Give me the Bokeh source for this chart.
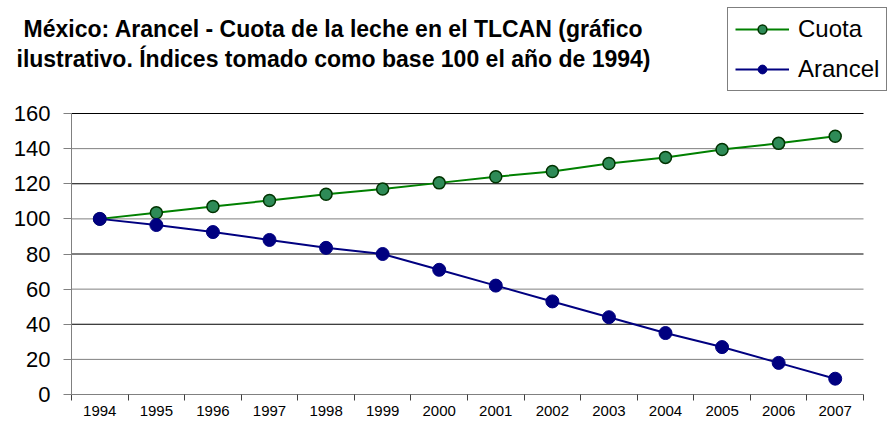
import numpy as np
from bokeh.plotting import figure
from bokeh.models import (ColumnDataSource, FixedTicker, Label, Legend,
                          LegendItem, Range1d)
from bokeh.embed import file_html
from bokeh.resources import INLINE

years = ["1994", "1995", "1996", "1997", "1998", "1999", "2000",
         "2001", "2002", "2003", "2004", "2005", "2006", "2007"]
cuota = [100, 103.5, 107, 110.5, 114, 117, 120.5, 124, 127, 131.5, 135, 139.5, 143, 147]
arancel = [100, 96.5, 92.5, 88, 83.5, 80, 71, 62, 53, 44, 35, 27, 18, 9]
y_ticks = [0, 20, 40, 60, 80, 100, 120, 140, 160]
title_lines = ["México: Arancel - Cuota de la leche en el TLCAN (gráfico",
               "ilustrativo. Índices tomado como base 100 el año de 1994)"]

FONT = "Liberation Sans"
W, H = 891, 431
# pixel layout (styles)
AXL, FR, AXB = 71, 889, 394        # y-axis pixel, frame right, x-axis pixel
AX_R = 863                          # end of category axis
Y_TOP_PX = 113                      # pixel of top tick value
n = len(years)
ymax_tick = y_ticks[-1]
px_per_cat = (AX_R - AXL) / n
px_per_unit = (AXB - Y_TOP_PX) / ymax_tick
x_start = -AXL / px_per_cat
x_end = (FR - AXL) / px_per_cat
y_start = -(H - AXB) / px_per_unit
y_end = AXB / px_per_unit

def px2x(px):
    return (px - AXL) / px_per_cat

def px2y(py):
    return (AXB - py) / px_per_unit

xpos = np.arange(n) + 0.5
src = ColumnDataSource(dict(x=xpos, cuota=cuota, arancel=arancel))

p = figure(width=W, height=H, output_backend="svg", toolbar_location=None,
           x_range=Range1d(x_start, x_end), y_range=Range1d(y_start, y_end),
           min_border_left=0, min_border_right=W - FR, min_border_top=0,
           min_border_bottom=0)
p.outline_line_color = None
p.background_fill_color = "white"
p.border_fill_color = "white"
p.xgrid.visible = False
p.ygrid.visible = False

# gridlines (alternating dark / grey as in the reference)
dark = [t for i, t in enumerate(y_ticks) if i % 2 == 0 and t > 0]
grey = [t for i, t in enumerate(y_ticks) if i % 2 == 1]
p.segment(x0=[0] * len(dark), x1=[n] * len(dark), y0=dark, y1=dark,
          line_color="#000000", line_width=1)
p.segment(x0=[0] * len(grey), x1=[n] * len(grey), y0=grey, y1=grey,
          line_color="#808080", line_width=1)

# y axis (pinned at the start of the categories)
p.yaxis.fixed_location = 0
p.yaxis.bounds = (0, ymax_tick)
p.yaxis.ticker = FixedTicker(ticks=y_ticks)
p.yaxis.axis_line_color = "#808080"
p.yaxis.major_tick_line_color = "#808080"
p.yaxis.major_tick_out = 8
p.yaxis.major_tick_in = 0
p.yaxis.minor_tick_line_color = None
p.yaxis.major_label_text_font = FONT
p.yaxis.major_label_text_font_size = "22px"
p.yaxis.major_label_text_color = "black"
p.yaxis.major_label_standoff = 13

# x axis (pinned at value 0)
p.xaxis.fixed_location = 0
p.xaxis.bounds = (0, n)
p.xaxis.ticker = FixedTicker(ticks=list(xpos), minor_ticks=list(range(n + 1)))
p.xaxis.major_label_overrides = {float(x): y for x, y in zip(xpos, years)}
p.xaxis.axis_line_color = "#808080"
p.xaxis.major_tick_line_color = None
p.xaxis.major_tick_out = 6
p.xaxis.major_tick_in = 0
p.xaxis.minor_tick_line_color = "#404040"
p.xaxis.minor_tick_out = 6
p.xaxis.minor_tick_in = 0
p.xaxis.major_label_text_font = FONT
p.xaxis.major_label_text_font_size = "15px"
p.xaxis.major_label_text_color = "black"
p.xaxis.major_label_standoff = 5

# series
l1 = p.line("x", "cuota", source=src, line_color="#008000", line_width=2)
c1 = p.scatter("x", "cuota", source=src, size=12, fill_color="#2E8B57",
               line_color="#003300", line_width=1.5)
l2 = p.line("x", "arancel", source=src, line_color="#000080", line_width=2)
c2 = p.scatter("x", "arancel", source=src, size=13, fill_color="#000080",
               line_color="#000080")

legend = Legend(items=[LegendItem(label="Cuota", renderers=[l1, c1]),
                       LegendItem(label="Arancel", renderers=[l2, c2])],
                location=(727, H - 91), orientation="vertical")
legend.border_line_color = "black"
legend.border_line_width = 1
legend.background_fill_alpha = 1
legend.label_text_font = FONT
legend.label_text_font_size = "24px"
legend.label_text_color = "black"
legend.glyph_width = 54
legend.glyph_height = 22
legend.label_standoff = 9
legend.padding = 7
legend.spacing = 12
legend.margin = 0
p.add_layout(legend, "center")

for i, t in enumerate(title_lines):
    p.add_layout(Label(x=px2x(333), y=px2y(28 + 30 * i),
                       text=t, text_font=FONT, text_font_style="bold",
                       text_font_size="23px", text_color="black",
                       text_align="center", text_baseline="alphabetic"))

open("out.html", "w").write(file_html(p, INLINE))
